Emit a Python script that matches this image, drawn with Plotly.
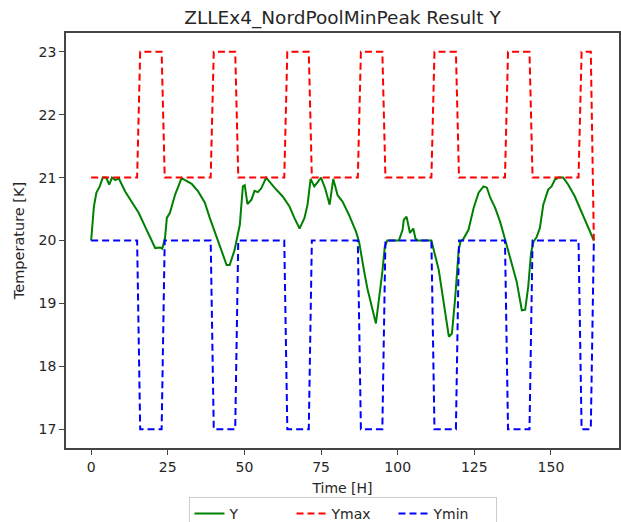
import plotly.graph_objects as go

# Bounds (step schedule, hourly breakpoints)
bound_t = [0, 15, 16, 23, 24, 39, 40, 47, 48, 63, 64, 71, 72, 87, 88, 95, 96,
           111, 112, 119, 120, 135, 136, 143, 144, 159, 160, 163, 164]
ymax_v = [21, 21, 23, 23, 21, 21, 23, 23, 21, 21, 23, 23, 21, 21, 23, 23, 21,
          21, 23, 23, 21, 21, 23, 23, 21, 21, 23, 23, 20]
ymin_v = [20, 20, 17, 17, 20, 20, 17, 17, 20, 20, 17, 17, 20, 20, 17, 17, 20,
          20, 17, 17, 20, 20, 17, 17, 20, 20, 17, 17, 20]

# Measured output Y
y_t = [0, 0.5, 0.9, 1.7, 2.8, 3.8, 4.9, 5.9, 6.8, 7.9, 9.0, 11.1, 13.3, 15.5,
       17.6, 19.8, 20.9, 22.5, 23.2, 24.1, 24.7, 25.7, 27.4, 29.5, 31.2, 32.8,
       34.9, 37.1, 38.7, 41.4, 44.2, 45.2, 46.8, 48.5, 49.5, 50.1, 51.0, 52.3,
       53.3, 54.4, 55.5, 57.1, 59.8, 62.5, 64.7, 66.3, 68.0, 69.6, 70.6, 71.6,
       72.8, 73.9, 75.0, 76.4, 77.8, 79.0, 80.4, 82.0, 84.2, 86.4, 87.4, 89.1,
       90.1, 92.9, 94.5, 95.0, 95.8, 96.6, 100.4, 101.6, 102.0, 102.9, 104.0,
       105.1, 105.8, 106.5, 111.0, 113.4, 116.7, 117.7, 118.8, 119.9, 120.5,
       121.5, 123.1, 124.8, 126.4, 128.0, 129.1, 130.2, 131.8, 133.4, 134.8,
       136.7, 138.8, 140.5, 141.6, 142.6, 143.5, 144.3, 145.3, 146.4, 147.5,
       149.1, 150.2, 151.3, 152.4, 154.0, 155.6, 157.8, 159.9, 162.1, 163.7, 164.0]
y_v = [20.0, 20.35, 20.54, 20.76, 20.86, 21.0, 21.0, 20.89, 21.0, 20.96, 20.99,
       20.78, 20.60, 20.44, 20.22, 20.01, 19.88, 19.89, 19.87, 20.04, 20.36,
       20.44, 20.73, 20.99, 20.94, 20.90, 20.78, 20.60, 20.36, 19.98, 19.61,
       19.61, 19.85, 20.25, 20.86, 20.88, 20.58, 20.65, 20.79, 20.77, 20.83,
       21.0, 20.84, 20.70, 20.54, 20.36, 20.19, 20.36, 20.57, 20.98, 20.86,
       20.93, 21.0, 20.82, 20.57, 20.98, 20.72, 20.62, 20.40, 20.14, 19.98,
       19.50, 19.24, 18.68, 19.27, 19.50, 19.90, 20.0, 20.0, 20.17, 20.33,
       20.38, 20.12, 20.19, 20.03, 20.0, 20.0, 19.53, 18.47, 18.52, 19.11,
       19.85, 19.98, 20.03, 20.17, 20.52, 20.76, 20.86, 20.84, 20.68, 20.52,
       20.30, 20.06, 19.72, 19.35, 18.89, 18.90, 19.27, 19.80, 19.98, 20.05,
       20.2, 20.57, 20.81, 20.86, 20.97, 21.0, 21.0, 20.89, 20.70, 20.46,
       20.22, 20.04, 20.0]

x_ticks = [0, 25, 50, 75, 100, 125, 150]
y_ticks = [17, 18, 19, 20, 21, 22, 23]

font = "DejaVu Sans"
txt = "#262626"

fig = go.Figure()
fig.add_trace(go.Scatter(x=y_t, y=y_v, mode="lines", name="Y",
                         line=dict(color="#008000", width=2)))
fig.add_trace(go.Scatter(x=bound_t, y=ymax_v, mode="lines", name="Ymax",
                         line=dict(color="#FF0000", width=2, dash="7px,4px")))
fig.add_trace(go.Scatter(x=bound_t, y=ymin_v, mode="lines", name="Ymin",
                         line=dict(color="#0000FF", width=2, dash="7px,4px")))

axis_common = dict(showline=True, mirror=True, linecolor="#444444", linewidth=1.6,
                   ticks="outside", ticklen=5, tickcolor="#444444", tickwidth=1.2,
                   showgrid=False, zeroline=False,
                   tickfont=dict(family=font, size=14, color=txt))

fig.update_layout(
    width=621, height=522,
    margin=dict(l=66, r=2, t=33, b=74, autoexpand=False),
    paper_bgcolor="white", plot_bgcolor="white",
    font=dict(family=font, size=14, color=txt),
    title=dict(text="ZLLEx4_NordPoolMinPeak Result Y", x=0.5, xref="paper",
               xanchor="center", y=1 - 18 / 522, yref="container", yanchor="middle",
               font=dict(family=font, size=18.5, color=txt)),
    xaxis=dict(range=[-8.2, 172.2], tickvals=x_ticks,
               title=dict(text="Time [H]", font=dict(family=font, size=14, color=txt),
                          standoff=10),
               **axis_common),
    yaxis=dict(range=[16.7, 23.3], tickvals=y_ticks,
               title=dict(text="Temperature [K]", font=dict(family=font, size=14.5, color=txt),
                          standoff=10),
               **axis_common),
    legend=dict(orientation="h", x=0.5, xanchor="center", y=-(497 - 448) / 415,
                yanchor="top", bordercolor="#cccccc", borderwidth=1, bgcolor="white",
                font=dict(family=font, size=14, color=txt), itemwidth=30,
                entrywidth=57, entrywidthmode="pixels"),
    showlegend=True,
)

fig.write_html("out.html")
